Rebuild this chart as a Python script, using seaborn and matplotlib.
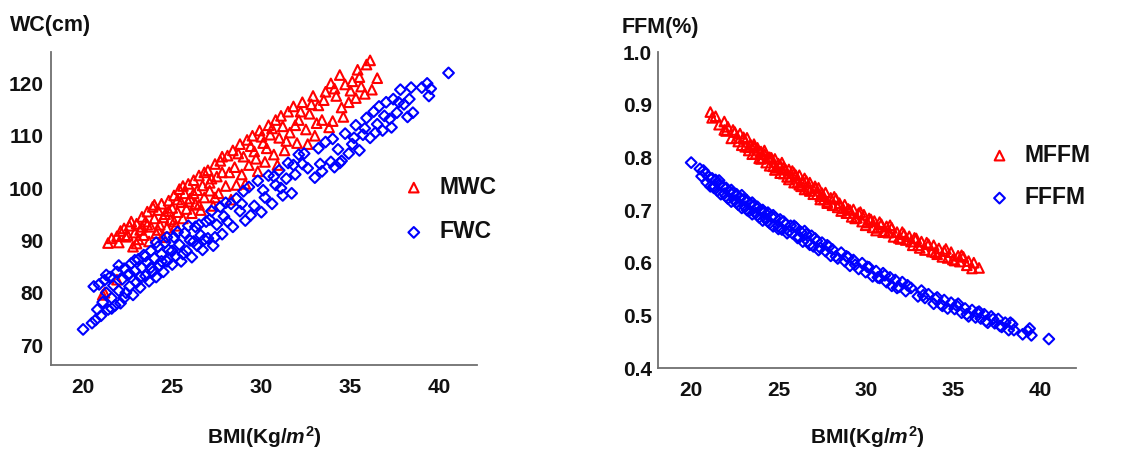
import matplotlib
matplotlib.use("Agg")
import matplotlib.pyplot as plt
from matplotlib.ticker import MultipleLocator, FormatStrFormatter
import seaborn as sns
import pandas as pd

# ---------------- data ----------------
male_bmi = [21.1, 21.2, 21.4, 21.6, 21.9, 21.9, 22.1, 22.3, 22.4, 22.6, 22.8, 22.9, 23.0, 23.1, 23.2,
            23.3, 23.4, 23.5, 23.6, 23.7, 23.8, 23.9, 24.0, 24.1, 24.2, 24.3, 24.4, 24.5, 24.6, 24.7,
            24.8, 24.9, 25.0, 25.1, 25.2, 25.3, 25.4, 25.5, 25.6, 25.7, 25.8, 25.9, 26.0, 26.1, 26.2,
            26.3, 26.4, 26.5, 26.6, 26.7, 26.8, 27.0, 27.1, 27.2, 27.3, 27.4, 27.5, 27.6, 27.7, 27.8,
            28.0, 28.1, 28.3, 28.4, 28.5, 28.6, 28.8, 28.9, 29.0, 29.2, 29.3, 29.5, 29.6, 29.8, 29.9,
            30.1, 30.2, 30.4, 30.5, 30.7, 30.8, 31.0, 31.2, 31.3, 31.5, 31.6, 31.8, 32.0, 32.1, 32.3,
            32.5, 32.7, 32.9, 33.0, 33.2, 33.4, 33.6, 33.8, 33.9, 34.0, 34.2, 34.4, 34.5, 34.7, 34.9,
            35.1, 35.3, 35.4, 35.6, 35.8, 35.9, 36.1, 36.2, 36.5,
            22.0, 22.5, 22.7, 23.0, 23.3, 23.6, 24.0, 24.2, 24.5, 24.8, 25.1, 25.3, 25.6, 25.9, 26.2,
            26.5, 26.8, 27.1, 27.4, 27.8, 28.2, 28.7, 29.1, 29.4, 29.7, 30.0, 30.3, 30.6, 30.9, 31.1,
            31.4, 31.9, 32.2, 32.6, 32.8, 33.1, 33.5, 34.1, 34.6, 35.0, 35.5]
male_wc = [79.6, 80.0, 89.5, 90.4, 82.5, 90.8, 91.8, 92.3, 90.7, 92.8, 88.8, 91.5, 93.2, 90.2, 92.0,
           94.5, 91.0, 93.6, 95.5, 89.8, 92.6, 96.4, 94.2, 91.4, 95.8, 93.0, 97.0, 90.6, 95.0, 92.4,
           97.6, 94.0, 96.2, 98.6, 92.8, 95.4, 99.8, 97.3, 94.2, 99.0, 96.0, 100.8, 98.0, 95.2, 101.5,
           97.0, 99.6, 102.4, 95.8, 100.5, 98.2, 103.4, 99.5, 101.8, 96.6, 104.6, 102.2, 99.0, 105.2, 103.0,
           100.4, 106.2, 97.8, 107.2, 104.0, 100.6, 108.4, 102.6, 106.0, 109.2, 104.4, 110.0, 107.0, 103.2, 111.0,
           108.6, 105.0, 112.0, 110.2, 106.4, 113.0, 109.6, 111.8, 107.2, 114.6, 110.6, 115.6, 108.6, 113.0, 116.4,
           111.2, 114.2, 117.6, 110.0, 115.8, 113.0, 118.4, 111.6, 120.0, 112.8, 117.6, 121.6, 115.4, 119.8, 116.4,
           120.4, 117.2, 122.6, 119.4, 118.0, 123.6, 124.4, 118.8, 121.0,
           89.6, 91.0, 93.6, 89.4, 92.6, 93.0, 96.8, 92.0, 94.4, 95.6, 93.6, 97.8, 100.4, 97.4, 99.0,
           96.8, 103.0, 101.0, 98.2, 106.0, 103.0, 106.6, 100.8, 108.0, 105.6, 109.8, 107.6, 111.4, 104.4, 113.8,
           109.0, 112.0, 114.6, 108.4, 116.0, 112.4, 116.8, 119.0, 113.6, 118.6, 121.2]
male_ffm = [0.886, 0.875, 0.878, 0.862, 0.868, 0.852, 0.858, 0.836, 0.852, 0.837, 0.845, 0.823, 0.836, 0.820, 0.837,
            0.819, 0.824, 0.806, 0.825, 0.807, 0.818, 0.798, 0.811, 0.799, 0.813, 0.790, 0.800, 0.784, 0.799, 0.783,
            0.797, 0.780, 0.788, 0.770, 0.790, 0.769, 0.777, 0.763, 0.777, 0.763, 0.774, 0.752, 0.766, 0.752, 0.766,
            0.745, 0.755, 0.739, 0.755, 0.741, 0.752, 0.730, 0.742, 0.730, 0.742, 0.720, 0.732, 0.720, 0.733, 0.713,
            0.723, 0.709, 0.721, 0.705, 0.713, 0.698, 0.710, 0.694, 0.702, 0.687, 0.701, 0.685, 0.694, 0.678, 0.691,
            0.676, 0.684, 0.667, 0.679, 0.666, 0.677, 0.658, 0.669, 0.657, 0.666, 0.649, 0.658, 0.645, 0.658, 0.643,
            0.650, 0.633, 0.646, 0.633, 0.640, 0.624, 0.635, 0.621, 0.633, 0.620, 0.627, 0.611, 0.622, 0.609, 0.620,
            0.604, 0.613, 0.602, 0.611, 0.595, 0.603, 0.589, 0.600, 0.590,
            0.850, 0.848, 0.830, 0.838, 0.813, 0.819, 0.797, 0.806, 0.800, 0.776, 0.785, 0.781, 0.758, 0.770, 0.748,
            0.760, 0.736, 0.745, 0.726, 0.716, 0.725, 0.703, 0.700, 0.684, 0.696, 0.671, 0.682, 0.661, 0.673, 0.660,
            0.671, 0.647, 0.654, 0.640, 0.647, 0.628, 0.638, 0.616, 0.626, 0.606, 0.614]

female_bmi = [20.0, 20.5, 20.6, 20.7, 20.9, 21.0, 21.1, 21.2, 21.3, 21.4, 21.5, 21.6, 21.7, 21.8, 21.9,
              22.0, 22.1, 22.2, 22.3, 22.4, 22.5, 22.6, 22.7, 22.8, 22.9, 23.0, 23.1, 23.2, 23.3, 23.4,
              23.5, 23.6, 23.7, 23.8, 23.9, 24.0, 24.1, 24.2, 24.3, 24.4, 24.5, 24.6, 24.7, 24.8, 25.0,
              25.1, 25.2, 25.4, 25.5, 25.7, 25.8, 26.0, 26.1, 26.3, 26.4, 26.6, 26.7, 26.9, 27.0, 27.2,
              27.3, 27.5, 27.7, 27.8, 28.0, 28.1, 28.4, 28.6, 28.8, 29.0, 29.1, 29.3, 29.6, 29.8, 30.0,
              30.2, 30.4, 30.6, 30.8, 31.0, 31.2, 31.4, 31.5, 31.7, 31.9, 32.1, 32.3, 32.6, 33.0, 33.2,
              33.4, 33.6, 33.9, 34.1, 34.3, 34.5, 34.7, 34.9, 35.1, 35.3, 35.5, 35.7, 35.9, 36.1, 36.3,
              36.5, 36.6, 36.8, 37.0, 37.2, 37.4, 37.6, 37.8, 38.0, 38.2, 38.4, 38.5, 39.0, 39.3, 39.4,
              39.5, 40.5,
              20.8, 21.3, 21.6, 22.0, 22.3, 22.6, 22.9, 23.2, 23.5, 23.8, 24.1, 24.4, 24.7, 25.0, 25.3,
              25.6, 25.9, 26.2, 26.5, 26.8, 27.1, 27.4, 27.9, 28.3, 28.9, 29.4, 30.1, 30.7, 31.1, 31.8,
              32.4, 33.3, 34.0, 34.4, 35.2, 35.8, 36.4, 36.9, 37.3, 37.7, 38.3]
female_wc = [73.0, 74.2, 81.2, 74.8, 81.6, 75.6, 78.2, 82.4, 80.0, 76.8, 83.0, 79.0, 81.4, 77.6, 84.0,
             80.4, 78.0, 82.6, 84.6, 80.0, 83.4, 81.2, 85.6, 79.6, 84.2, 82.0, 86.4, 81.0, 84.8, 87.2,
             83.2, 85.8, 82.2, 88.0, 84.0, 86.6, 83.0, 88.8, 85.2, 87.4, 84.0, 89.6, 86.0, 88.2, 85.4,
             90.6, 87.0, 89.2, 86.0, 91.4, 88.0, 90.0, 86.8, 92.6, 89.0, 91.0, 88.2, 93.6, 90.4, 95.6,
             89.0, 93.0, 96.4, 91.2, 97.2, 93.6, 92.6, 98.0, 95.6, 99.4, 93.8, 100.2, 96.6, 101.4, 95.4,
             98.2, 102.4, 97.0, 100.6, 103.4, 98.6, 101.8, 104.8, 99.0, 102.6, 106.4, 104.6, 103.8, 102.0, 107.6,
             103.2, 108.8, 105.0, 104.0, 107.4, 105.2, 110.4, 106.6, 108.4, 112.0, 107.2, 110.2, 113.4, 109.6, 114.6,
             112.2, 115.6, 111.0, 116.4, 113.2, 117.0, 114.4, 118.8, 116.0, 113.6, 119.2, 114.4, 119.2, 120.0, 117.6,
             119.0, 122.0,
             76.8, 83.4, 77.0, 85.2, 79.0, 83.6, 86.2, 83.0, 87.0, 84.8, 89.6, 86.0, 90.6, 88.0, 91.6,
             87.4, 92.8, 89.8, 93.0, 90.2, 94.0, 90.6, 94.6, 97.0, 97.0, 94.8, 99.6, 102.2, 100.0, 104.4,
             106.6, 104.6, 109.4, 104.8, 109.6, 111.4, 110.6, 113.8, 111.6, 116.4, 117.0]
female_ffm = [0.790, 0.778, 0.764, 0.775, 0.752, 0.763, 0.745, 0.760, 0.746, 0.757, 0.737, 0.748, 0.730, 0.745, 0.731,
              0.742, 0.722, 0.734, 0.716, 0.732, 0.718, 0.730, 0.710, 0.722, 0.704, 0.720, 0.706, 0.718, 0.698, 0.710,
              0.692, 0.708, 0.694, 0.706, 0.686, 0.698, 0.680, 0.696, 0.683, 0.695, 0.675, 0.687, 0.669, 0.686, 0.670,
              0.682, 0.663, 0.673, 0.656, 0.670, 0.656, 0.667, 0.647, 0.658, 0.640, 0.654, 0.640, 0.651, 0.631, 0.641,
              0.624, 0.638, 0.622, 0.633, 0.613, 0.625, 0.608, 0.619, 0.603, 0.610, 0.594, 0.605, 0.588, 0.599, 0.582,
              0.591, 0.574, 0.584, 0.571, 0.580, 0.563, 0.572, 0.556, 0.567, 0.554, 0.563, 0.546, 0.552, 0.536, 0.547,
              0.533, 0.540, 0.522, 0.534, 0.521, 0.529, 0.513, 0.524, 0.512, 0.522, 0.505, 0.513, 0.498, 0.510, 0.496,
              0.507, 0.494, 0.502, 0.486, 0.498, 0.485, 0.493, 0.478, 0.486, 0.472, 0.483, 0.472, 0.464, 0.470, 0.475,
              0.462, 0.455,
              0.770, 0.742, 0.756, 0.726, 0.738, 0.714, 0.728, 0.700, 0.714, 0.690, 0.700, 0.678, 0.690, 0.664, 0.678,
              0.660, 0.670, 0.648, 0.660, 0.634, 0.646, 0.628, 0.630, 0.612, 0.612, 0.596, 0.592, 0.572, 0.576, 0.552,
              0.557, 0.538, 0.531, 0.518, 0.519, 0.502, 0.505, 0.489, 0.493, 0.480, 0.486]

# ---------------- style ----------------
sns.set_style("white")
FONT = ["Liberation Sans", "DejaVu Sans"]
plt.rcParams["font.family"] = FONT
plt.rcParams["font.weight"] = "bold"
plt.rcParams["mathtext.fontset"] = "custom"
plt.rcParams["mathtext.rm"] = "Liberation Sans:bold"
plt.rcParams["mathtext.it"] = "Liberation Sans:italic:bold"
plt.rcParams["mathtext.bf"] = "Liberation Sans:bold"

RED = "#ff0000"
BLUE = "#0000ff"
AXC = "#707070"
TXT = "#111111"

male = pd.DataFrame({"BMI": male_bmi, "WC": male_wc, "FFM": male_ffm})
female = pd.DataFrame({"BMI": female_bmi, "WC": female_wc, "FFM": female_ffm})

fig = plt.figure(figsize=(11.31, 4.55), dpi=100)
ax1 = fig.add_axes([0.0451, 0.1978, 0.3767, 0.6879])
ax2 = fig.add_axes([0.5818, 0.1912, 0.3696, 0.6945])


def scatter(ax, df, ycol, marker, color, label, size):
    sns.scatterplot(data=df, x="BMI", y=ycol, marker=marker, color=color, s=size,
                    linewidth=1.5, ax=ax, label=label, legend=False)
    coll = ax.collections[-1]
    coll.set_facecolor("none")
    coll.set_edgecolor(color)
    coll.set_linewidth(1.5)


scatter(ax1, male, "WC", "^", RED, "MWC", 48)
scatter(ax1, female, "WC", "D", BLUE, "FWC", 30)
scatter(ax2, male, "FFM", "^", RED, "MFFM", 48)
scatter(ax2, female, "FFM", "D", BLUE, "FFFM", 30)


def style(ax, xlim, ylim, ymaj, ymin_, ypad):
    ax.set_xlim(*xlim)
    ax.set_ylim(*ylim)
    for s in ["top", "right"]:
        ax.spines[s].set_visible(False)
    for s in ["left", "bottom"]:
        ax.spines[s].set_color(AXC)
        ax.spines[s].set_linewidth(1.3)
    ax.xaxis.set_major_locator(MultipleLocator(5))
    ax.xaxis.set_minor_locator(MultipleLocator(1))
    ax.yaxis.set_major_locator(MultipleLocator(ymaj))
    ax.yaxis.set_minor_locator(MultipleLocator(ymin_))
    ax.tick_params(which="major", direction="in", length=6, width=1.1, color=AXC,
                   labelsize=15, labelcolor=TXT)
    ax.tick_params(which="minor", direction="in", length=3, width=1.0, color=AXC)
    ax.tick_params(axis="x", which="major", pad=9)
    ax.tick_params(axis="y", which="major", pad=ypad)
    ax.grid(False)


style(ax1, (18.2, 42.1), (66.2, 126.0), 10, 2, 5.5)
style(ax2, (18.1, 42.06), (0.4, 1.0), 0.1, 0.02, 4.5)
ax2.yaxis.set_major_formatter(FormatStrFormatter("%.1f"))

for ax, yl, ylx, yly in [(ax1, "WC(cm)", -0.096, 1.086), (ax2, "FFM(%)", -0.086, 1.079)]:
    ax.set_xlabel(r"BMI(Kg/$m^2$)", fontsize=15, fontweight="bold", color=TXT)
    ax.xaxis.set_label_coords(0.5, -0.23 if ax is ax1 else -0.22)
    ax.xaxis.label.set_va("center")
    ax.set_ylabel(yl, rotation=0, fontsize=15.5, fontweight="bold", color=TXT)
    ax.yaxis.set_label_coords(ylx, yly)
    ax.yaxis.label.set_ha("left")
    ax.yaxis.label.set_va("center")

leg_kw = dict(frameon=False, fontsize=16.5, handlelength=0.8, handletextpad=0.7,
              borderpad=0.0, borderaxespad=0.0, loc="upper left", markerscale=1.0)
l1 = ax1.legend(bbox_to_anchor=(0.83, 0.605), labelspacing=0.95, **leg_kw)
l2 = ax2.legend(bbox_to_anchor=(0.795, 0.71), labelspacing=0.85, **leg_kw)
for leg in (l1, l2):
    for t in leg.get_texts():
        t.set_color(TXT)
        t.set_fontweight("bold")

fig.savefig("out.png", dpi=100, facecolor="white")
